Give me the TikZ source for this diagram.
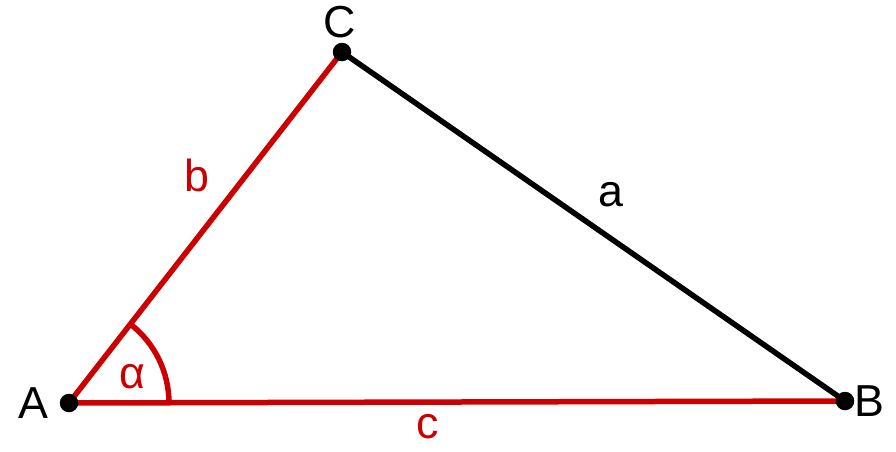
\documentclass[tikz,border=0pt]{standalone}
\usepackage{fontspec}
\setmainfont{Liberation Sans}
\usepackage{tikz}
\definecolor{sidered}{RGB}{204,0,0}

\begin{document}
\begin{tikzpicture}[x=0.02cm,y=-0.02cm,
   vertex/.style={circle,fill=black,inner sep=0pt,minimum size=0.37cm},
   lbl/.style={font=\fontsize{25.5}{30}\selectfont}]
   \useasboundingbox (0,0) rectangle (896,451);

   \coordinate (A) at (69,403);
   \coordinate (B) at (845,401);
   \coordinate (C) at (342,52);

   % angle at A
   \draw[sidered,line width=0.11cm] ([shift={(100,-0.3)}]A) arc[start angle=-0.2,end angle=-52,radius=100];

   \draw[line width=0.11cm,line cap=round] (C) -- (B);
   \draw[sidered,line width=0.11cm,line cap=round] (A) -- (C);
   \draw[sidered,line width=0.11cm,line cap=round] (A) -- (B);

   \node[vertex] (dA) at (A) {};
   \node[vertex] (dB) at (B) {};
   \node[vertex] (dC) at (C) {};

   \node[lbl] (nA) at (33,403) {A};
   \node[lbl] (nB) at (869,401) {B};
   \node[lbl] (nC) at (340,22) {C};

   \node[lbl,text=sidered] (nb) at (197,175) {b};
   \node[lbl] (na) at (611,195) {a};
   \node[lbl,text=sidered] (nc) at (428,427) {c};
   \node[lbl,text=sidered] (nalpha) at (132,377) {α};
\end{tikzpicture}
\end{document}
